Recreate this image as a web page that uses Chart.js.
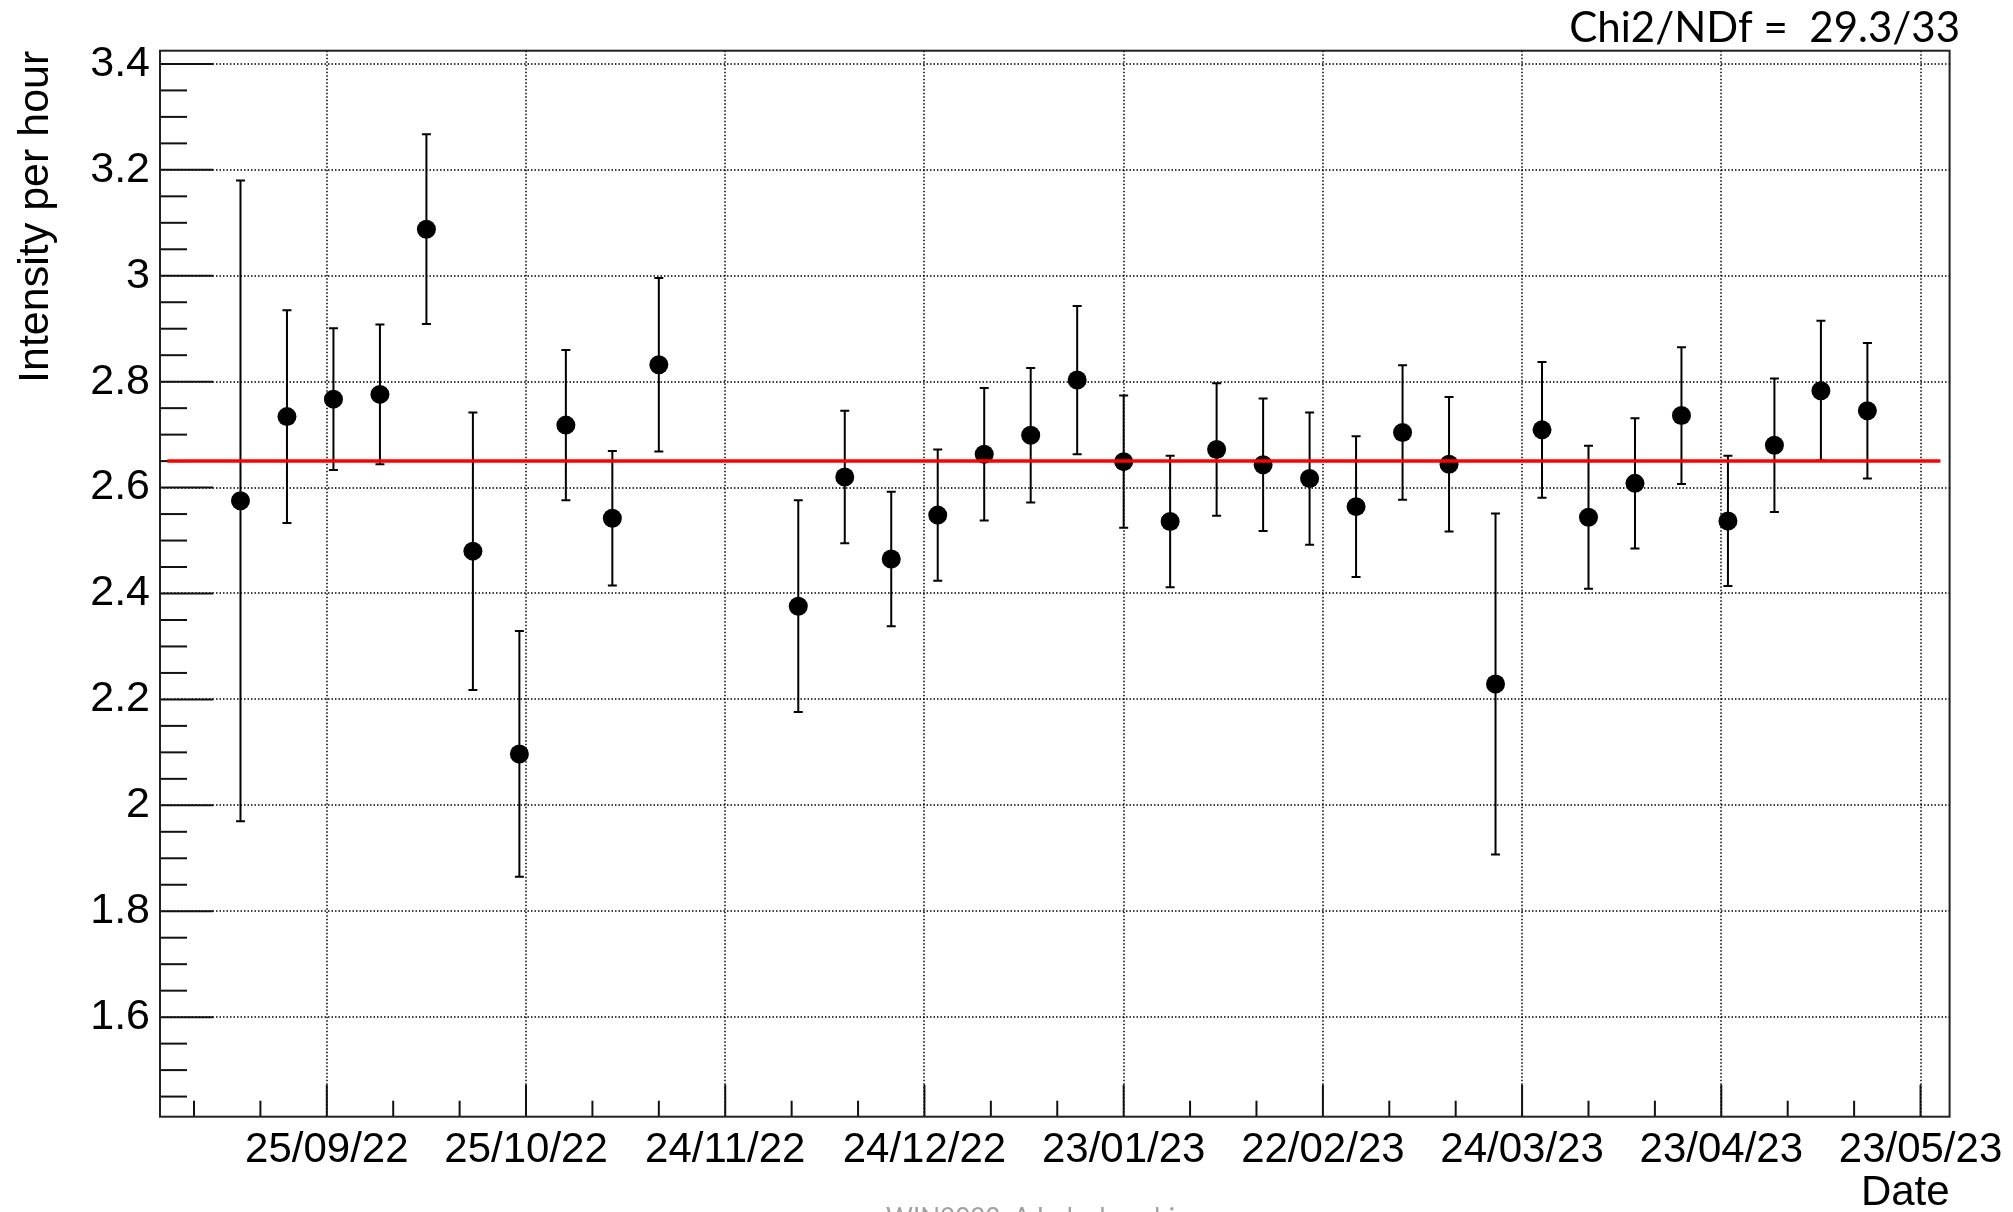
<!DOCTYPE html>
<html>
<head>
<meta charset="utf-8">
<script src="https://cdn.jsdelivr.net/npm/chart.js@4.4.0/dist/chart.umd.min.js"></script>
<style>
html,body{margin:0;padding:0;background:#ffffff;}
#wrap{position:relative;width:2013px;height:1212px;overflow:hidden;background:#fff;}
</style>
</head>
<body>
<div id="wrap"><canvas id="c" width="2013" height="1212"></canvas></div>
<script>
// ---------------- data ----------------
const dates = [
  '2022-09-12','2022-09-19','2022-09-26','2022-10-03','2022-10-10','2022-10-17','2022-10-24','2022-10-31','2022-11-07','2022-11-14',
  '2022-12-05','2022-12-12','2022-12-19','2022-12-26','2023-01-02','2023-01-09','2023-01-16','2023-01-23','2023-01-30','2023-02-06',
  '2023-02-13','2023-02-20','2023-02-27','2023-03-06','2023-03-13','2023-03-20','2023-03-27','2023-04-03','2023-04-10','2023-04-17',
  '2023-04-24','2023-05-01','2023-05-08','2023-05-15'
];
const values = [
  2.575, 2.734, 2.767, 2.776, 3.088, 2.480, 2.097, 2.718, 2.542, 2.832,
  2.376, 2.620, 2.465, 2.548, 2.663, 2.699, 2.803, 2.649, 2.536, 2.672,
  2.643, 2.617, 2.564, 2.704, 2.644, 2.229, 2.709, 2.544, 2.608, 2.736,
  2.537, 2.680, 2.783, 2.745
];
const errors = [
  0.605, 0.201, 0.134, 0.132, 0.179, 0.262, 0.232, 0.142, 0.127, 0.164,
  0.200, 0.125, 0.127, 0.124, 0.125, 0.127, 0.140, 0.125, 0.124, 0.125,
  0.125, 0.125, 0.133, 0.127, 0.127, 0.322, 0.128, 0.135, 0.123, 0.129,
  0.123, 0.126, 0.132, 0.128
];
const fitValue = 2.650;
const fitRange = ['2022-09-01', '2023-05-26'];

const xTickDates = ['2022-09-25','2022-10-25','2022-11-24','2022-12-24','2023-01-23','2023-02-22','2023-03-24','2023-04-23','2023-05-23'];
const xTickLabels = ['25/09/22','25/10/22','24/11/22','24/12/22','23/01/23','22/02/23','24/03/23','23/04/23','23/05/23'];
const xMinorDays = 10;
const xRangeDays = [-25.12, 244.38];   // relative to first labelled date

const yMajorTicks = [1.6, 1.8, 2.0, 2.2, 2.4, 2.6, 2.8, 3.0, 3.2, 3.4];
const yTickLabels = ['1.6','1.8','2','2.2','2.4','2.6','2.8','3','3.2','3.4'];
const yMinorStep = 0.05;
const yRange = [1.412, 3.425];

const xTitle = 'Date';
const yTitle = 'Intensity per hour';
const statText = 'Chi2/NDf =  29.3/33';
const footerText = 'WIN2023, A.Iudeaknochi';

// ---------------- helpers ----------------
const origin = Date.UTC(2022, 8, 25);
function dayOf(s){ const p = s.split('-').map(Number); return (Date.UTC(p[0], p[1]-1, p[2]) - origin) / 86400000; }

const xMajor = xTickDates.map(dayOf);
const xAll = [];
xMajor.forEach((m, i) => {
  for (let k = -2; k <= 2; k++) {
    const v = m + k * xMinorDays;
    if (v >= xRangeDays[0] && v <= xRangeDays[1] && !xAll.some(e => Math.abs(e - v) < 1e-6)) xAll.push(v);
  }
});
xAll.sort((a,b)=>a-b);

const yAll = [];
for (let v = Math.ceil(yRange[0]/yMinorStep)*yMinorStep; v <= yRange[1] + 1e-9; v += yMinorStep) yAll.push(Math.round(v*1000)/1000);

function isMajorX(v){ return xMajor.some(m => Math.abs(m - v) < 1e-6); }
function isMajorY(v){ return yMajorTicks.some(m => Math.abs(m - v) < 1e-6); }

const points = dates.map((d, i) => ({x: dayOf(d), y: values[i]}));
const fitPts = fitRange.map(d => ({x: dayOf(d), y: fitValue}));

const LABEL_FONT = 'Liberation Sans';

const rootPlugin = {
  id: 'rootStyle',
  beforeDatasetsDraw(chart) {
    const {ctx, chartArea: a, scales: {x, y}} = chart;
    ctx.save();
    // dotted grid
    ctx.strokeStyle = '#000';
    ctx.lineWidth = 1.5;
    ctx.setLineDash([1.5, 2]);
    xMajor.forEach(v => {
      const px = Math.round(x.getPixelForValue(v));
      ctx.beginPath(); ctx.moveTo(px, a.top); ctx.lineTo(px, a.bottom); ctx.stroke();
    });
    yMajorTicks.forEach(v => {
      const py = Math.round(y.getPixelForValue(v));
      ctx.beginPath(); ctx.moveTo(a.left, py); ctx.lineTo(a.right, py); ctx.stroke();
    });
    ctx.setLineDash([]);
    // tick marks inside the frame
    ctx.strokeStyle = '#111';
    ctx.lineWidth = 2;
    xAll.forEach(v => {
      const px = x.getPixelForValue(v);
      const len = isMajorX(v) ? 32 : 16;
      ctx.beginPath(); ctx.moveTo(px, a.bottom); ctx.lineTo(px, a.bottom - len); ctx.stroke();
    });
    yAll.forEach(v => {
      const py = y.getPixelForValue(v);
      const len = isMajorY(v) ? 53 : 27;
      ctx.beginPath(); ctx.moveTo(a.left, py); ctx.lineTo(a.left + len, py); ctx.stroke();
    });
    // frame
    ctx.strokeStyle = '#222';
    ctx.lineWidth = 2;
    ctx.strokeRect(a.left, a.top, a.right - a.left, a.bottom - a.top);
    // error bars
    ctx.strokeStyle = '#000';
    ctx.lineWidth = 2;
    points.forEach((p, i) => {
      const px = x.getPixelForValue(p.x);
      const t = y.getPixelForValue(values[i] + errors[i]);
      const b = y.getPixelForValue(values[i] - errors[i]);
      ctx.beginPath();
      ctx.moveTo(px, t); ctx.lineTo(px, b);
      ctx.moveTo(px - 4.5, t); ctx.lineTo(px + 4.5, t);
      ctx.moveTo(px - 4.5, b); ctx.lineTo(px + 4.5, b);
      ctx.stroke();
    });
    ctx.restore();
  },
  afterDraw(chart) {
    const {ctx} = chart;
    ctx.save();
    ctx.fillStyle = '#000';
    ctx.font = '42px Lato';
    ctx.textAlign = 'right';
    ctx.textBaseline = 'alphabetic';
    ctx.fillText(statText, 1960, 42);
    ctx.fillStyle = '#a0a0a0';
    ctx.font = '26px Lato';
    ctx.textAlign = 'left';
    ctx.fillText(footerText, 886, 1227);
    ctx.restore();
  }
};

new Chart(document.getElementById('c'), {
  type: 'scatter',
  data: {
    datasets: [
      {
        type: 'line',
        data: fitPts,
        borderColor: '#ff0000',
        borderWidth: 3.5,
        pointRadius: 0,
        fill: false,
        showLine: true,
        order: 0
      },
      {
        data: points,
        pointRadius: 9.5,
        pointBackgroundColor: '#000',
        pointBorderColor: '#000',
        pointBorderWidth: 0,
        showLine: false,
        order: 1
      }
    ]
  },
  options: {
    responsive: false,
    animation: false,
    devicePixelRatio: 1,
    layout: { padding: { top: 50.7, right: 63.4, bottom: 0, left: 0 } },
    plugins: { legend: { display: false }, tooltip: { enabled: false }, title: { display: false } },
    scales: {
      x: {
        type: 'linear',
        bounds: 'data',
        min: xRangeDays[0],
        max: xRangeDays[1],
        afterBuildTicks: s => { s.ticks = xAll.map(v => ({value: v})); },
        afterFit: s => { s.height = 95.3; },
        grid: { display: false, drawTicks: false },
        border: { display: false },
        ticks: {
          autoSkip: false,
          maxRotation: 0,
          minRotation: 0,
          padding: 9,
          color: '#000',
          font: { family: LABEL_FONT, size: 42 },
          callback: v => { const i = xMajor.findIndex(m => Math.abs(m - v) < 1e-6); return i >= 0 ? xTickLabels[i] : ''; }
        },
        title: {
          display: true,
          text: xTitle,
          align: 'end',
          color: '#000',
          font: { family: LABEL_FONT, size: 42, lineHeight: 0.88 },
          padding: { top: 0, bottom: 0 }
        }
      },
      y: {
        type: 'linear',
        bounds: 'data',
        min: yRange[0],
        max: yRange[1],
        afterBuildTicks: s => { s.ticks = yAll.map(v => ({value: v})); },
        afterFit: s => { s.width = 160; },
        grid: { display: false, drawTicks: false },
        border: { display: false },
        ticks: {
          autoSkip: false,
          padding: 10,
          color: '#000',
          font: { family: LABEL_FONT, size: 43 },
          callback: v => { const i = yMajorTicks.findIndex(m => Math.abs(m - v) < 1e-6); return i >= 0 ? yTickLabels[i] : ''; }
        },
        title: {
          display: true,
          text: yTitle,
          align: 'end',
          color: '#000',
          font: { family: LABEL_FONT, size: 43, lineHeight: 1.0 },
          padding: { top: 15, bottom: 0 }
        }
      }
    }
  },
  plugins: [rootPlugin]
});
</script>
</body>
</html>
